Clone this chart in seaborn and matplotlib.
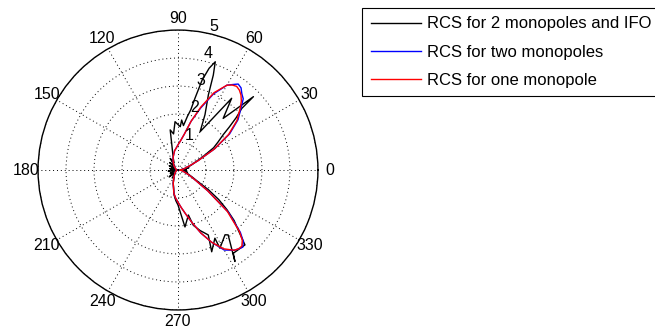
import numpy as np
import pandas as pd
import seaborn as sns
import matplotlib.pyplot as plt

# angles in degrees, radii
red_deg = [0, 10, 20, 25, 30, 35, 40, 45, 47.5, 50, 52.5, 55, 57.5, 60, 65, 70, 75, 80, 85, 90, 95, 100,
           110, 120, 135, 150, 165, 180, 195, 210, 225, 240, 250, 260, 265, 270, 275, 280, 285, 290,
           295, 300, 305, 307.5, 310, 312.5, 315, 320, 325, 330, 335, 340, 350, 360]
red_r = [0.08, 0.2, 0.45, 0.8, 1.5, 2.2, 2.75, 3.15, 3.35, 3.5, 3.6, 3.65, 3.6, 3.5, 3.05, 2.4, 1.8, 1.3, 1.05, 0.9, 0.78, 0.7,
         0.5, 0.35, 0.2, 0.1, 0.06, 0.05, 0.05, 0.08, 0.15, 0.3, 0.5, 0.85, 1.0, 1.15, 1.35, 1.6, 1.95, 2.4,
         2.85, 3.25, 3.5, 3.55, 3.55, 3.4, 3.1, 2.3, 1.3, 0.7, 0.45, 0.3, 0.15, 0.08]

blue_deg = red_deg
blue_r = [0.08, 0.2, 0.45, 0.8, 1.5, 2.25, 2.8, 3.2, 3.45, 3.55, 3.7, 3.75, 3.62, 3.5, 3.0, 2.35, 1.8, 1.3, 1.05, 0.9, 0.78, 0.7,
          0.5, 0.35, 0.2, 0.1, 0.06, 0.05, 0.05, 0.08, 0.15, 0.3, 0.5, 0.85, 1.0, 1.15, 1.35, 1.6, 1.95, 2.4,
          2.85, 3.3, 3.5, 3.55, 3.6, 3.45, 3.15, 2.35, 1.3, 0.7, 0.45, 0.3, 0.15, 0.08]

black_deg = [0, 5, 8, 12, 16, 20, 24, 28, 32, 35, 38, 40, 42, 44, 44.2, 48.8, 53.2, 60, 64, 68,
             69.6, 71, 73, 75, 76.7, 78, 80, 83, 85.8, 87, 93.5, 97, 101, 104, 108, 112, 118, 124, 130, 138,
             146, 154, 162, 170, 178, 186, 194, 202, 210, 218, 226, 234, 242, 250, 256, 261, 266, 270, 273, 277,
             283, 285.5, 290, 295, 292.4, 298.4, 298.2, 306, 307.7, 301.9, 303.6, 311.8, 315, 318, 321, 324, 327, 330, 334, 338,
             342, 346, 350, 355, 360]
black_r = [0.15, 0.3, 0.15, 0.4, 0.3, 0.5, 0.65, 1.0, 1.5, 1.75, 2.05, 2.4, 2.8, 3.17, 3.76, 2.45, 3.2, 1.58, 2.2, 2.9,
           3.62, 4.09, 3.8, 3.32, 2.63, 2.2, 1.95, 1.6, 1.79, 1.55, 1.73, 1.3, 1.46, 0.9, 0.6, 0.45, 0.3, 0.5, 0.2, 0.4,
           0.15, 0.35, 0.1, 0.3, 0.15, 0.35, 0.1, 0.3, 0.2, 0.4, 0.15, 0.35, 0.3, 0.5, 0.65, 0.9, 1.1, 1.25, 1.5, 2.05,
           1.65, 2.05, 2.3, 2.56, 3.16, 2.77, 3.17, 2.86, 2.93, 3.85, 3.57, 3.59, 3.05, 2.7, 2.25, 1.8, 1.3, 0.8, 0.55, 0.4,
           0.25, 0.35, 0.2, 0.3, 0.15]

labels = ["RCS for 2 monopoles and IFO", "RCS for two monopoles", "RCS for one monopole"]
colors = ["black", "blue", "red"]

r_ticks = [1, 2, 3, 4, 5]
theta_ticks = list(range(0, 360, 30))

plt.rcParams["font.family"] = ["Liberation Sans", "DejaVu Sans"]

fig = plt.figure(figsize=(6.55, 3.34), dpi=100)
ax = fig.add_axes([0.058, 0.072, 0.4275, 0.838], projection="polar")

# one seaborn call per trace, drawn in the order the points were read
for lab, col, d, r in zip(labels, colors, [black_deg, blue_deg, red_deg], [black_r, blue_r, red_r]):
    part = pd.DataFrame({"theta": np.deg2rad(d), "r": r})
    sns.lineplot(data=part, x="theta", y="r", color=col, sort=False, estimator=None,
                 linewidth=1.0, ax=ax)

ax.set_ylim(0, 5)
ax.set_xlabel("")
ax.set_ylabel("")
ax.set_thetagrids(theta_ticks, [str(t) for t in theta_ticks], fontsize=11.5)
ax.set_rgrids(r_ticks, [""] * len(r_ticks))
ax.grid(True, color="black", linewidth=0.7, linestyle=(0, (1, 3)))
ax.tick_params(axis="x", pad=-2)
ax.spines["polar"].set_color("black")
ax.spines["polar"].set_linewidth(1.0)

for r in r_ticks:
    ax.text(np.deg2rad(77), r, str(r), ha="left", va="bottom", fontsize=11.5)

handles = [plt.Line2D([], [], color=c, linewidth=1.0) for c in colors]
fig.legend(handles, labels, loc="upper left", bbox_to_anchor=(0.553, 0.976),
           bbox_transform=fig.transFigure, fancybox=False, edgecolor="black", framealpha=1,
           borderaxespad=0, handlelength=3.0, handletextpad=0.4, labelspacing=0.8,
           borderpad=0.5, fontsize=12)
fig.legends[0].get_frame().set_linewidth(0.8)

fig.savefig("out.png", dpi=100)
